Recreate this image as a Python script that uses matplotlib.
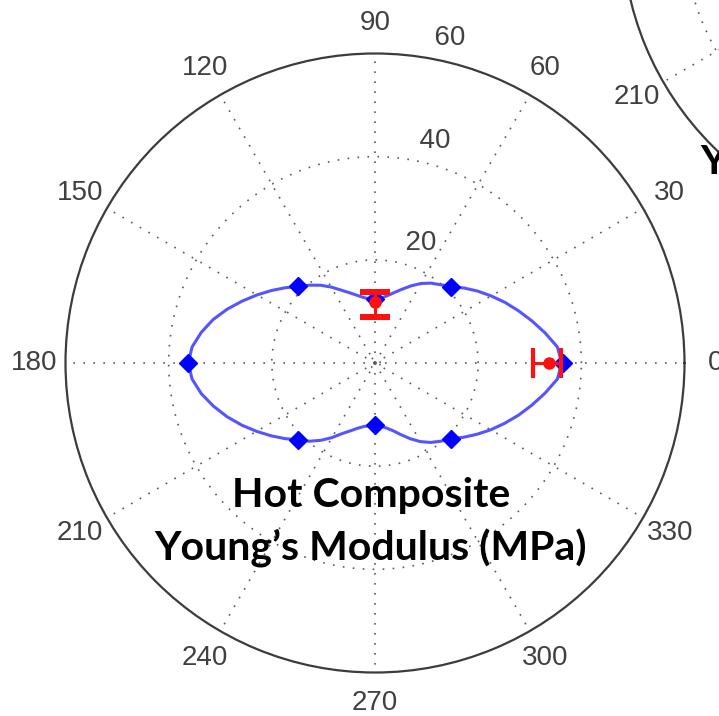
import numpy as np
import matplotlib
matplotlib.use("Agg")
from matplotlib import pyplot as plt

curve_deg = list(range(0, 361, 5))
curve_r = [36.2, 35.5, 33.5, 31.5, 29.6, 27.8, 26.0, 24.3, 22.6, 21.0,
           19.8, 18.9, 17.8, 16.5, 15.2, 14.1, 13.2, 12.6, 12.4, 12.5,
           12.9, 13.6, 14.5, 15.6, 17.0, 18.4, 19.7, 21.0, 22.7, 24.5,
           26.4, 28.4, 30.5, 32.5, 34.2, 35.6, 36.2, 35.6, 34.2, 32.4,
           30.5, 28.5, 26.5, 24.6, 22.8, 21.1, 19.8, 18.3, 16.7, 15.1,
           14.0, 13.1, 12.5, 12.2, 12.1, 12.3, 12.8, 13.6, 14.8, 16.2,
           17.6, 18.8, 19.8, 20.8, 22.4, 24.1, 25.9, 27.7, 29.6, 31.5,
           33.5, 35.5, 36.2]

# model points (blue diamonds)
model_deg = [0, 45, 90, 135, 180, 225, 270, 315]
model_r = [36.5, 20.8, 12.4, 21.2, 36.2, 21.1, 12.1, 20.7]

# measured hot composite values with error bars (red)
test_deg = [0, 90]
test_r = [33.8, 11.8]
test_err_low = [3.2, 2.9]
test_err_high = [2.3, 1.9]

angle_ticks = [0, 30, 60, 90, 120, 150, 180, 210, 240, 270, 300, 330]
angle_labels = [str(a) for a in angle_ticks]
ring_ticks = [20, 40, 60]
r_max = 60

# neighbouring panel, only its corner shows
side_rings = [10, 20, 30, 40]
side_r_max = 50

W, H = 719, 716
fig = plt.figure(figsize=(W / 100, H / 100), dpi=100)

label_font = dict(family=["Liberation Sans Narrow", "Liberation Sans"], fontsize=20, color="#404040")
title_font = dict(family=["Lato", "DejaVu Sans"], fontsize=29.5, fontweight="bold", color="black")


def polar_frame(cx, cy, rad, rings, rmax):
    ax = fig.add_axes([(cx - rad) / W, 1 - (cy + rad) / H, 2 * rad / W, 2 * rad / H],
                      projection="polar")
    ax.set_facecolor("none")
    ax.set_ylim(0, rmax)
    ax.set_xticks(np.radians(angle_ticks))
    ax.set_xticklabels([])
    ax.set_yticks(rings)
    ax.set_yticklabels([])
    ax.tick_params(length=0)
    ax.grid(True, color="#5a5a5a", linestyle=(0, (1, 5)), linewidth=1.2)
    ax.spines["polar"].set_color("#3c3c3c")
    ax.spines["polar"].set_linewidth(1.6)
    for a, lbl in zip(angle_ticks, angle_labels):
        ax.text(np.radians(a), 1.1 * rmax, lbl, ha="center", va="center",
                clip_on=False, **label_font)
    return ax


ax = polar_frame(375, 363, 309.5, [1] + ring_ticks[:-1], r_max)
for rt in ring_ticks:
    ax.text(np.radians(82), rt + 1, "  " + str(rt), ha="left", va="bottom",
            clip_on=False, **label_font)

ax.plot(np.radians(curve_deg), curve_r, color="#5555ff", linewidth=2.2, zorder=3)
ax.plot(np.radians(model_deg), model_r, linestyle="none", marker="D",
        markersize=9, color="#0000ff", zorder=4)
ax.errorbar(np.radians(test_deg), test_r, yerr=[test_err_low, test_err_high],
            fmt="o", color="#ff0f0f", markersize=8, elinewidth=2.2,
            capsize=11, capthick=3.0, zorder=5)

side = polar_frame(930, -72, 308, side_rings, side_r_max)

fig.text(371 / W, 1 - 495 / H, "Hot Composite", ha="center", va="center", **title_font)
fig.text(371 / W, 1 - 548 / H, "Young\u2019s Modulus (MPa)", ha="center", va="center", **title_font)
fig.text(700 / W, 1 - 162 / H, "Young\u2019s Modulus (MPa)", ha="left", va="center", **title_font)

fig.savefig("out.png", dpi=100)
